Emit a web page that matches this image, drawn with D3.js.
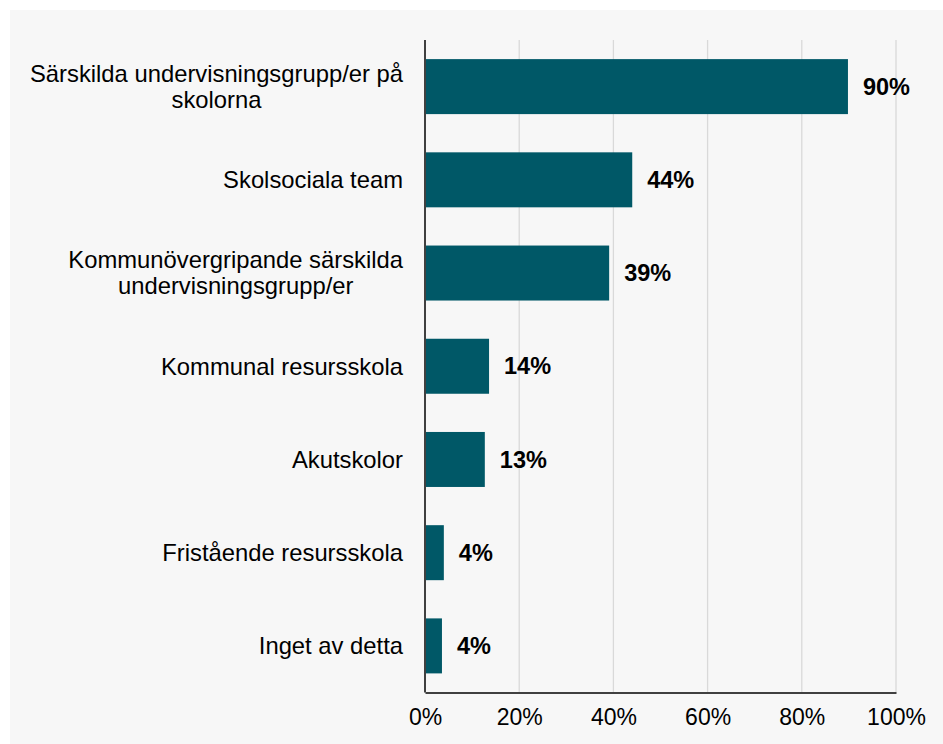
<!DOCTYPE html>
<meta charset="utf-8">
<script src="https://d3js.org/d3.v7.min.js"></script>
<style>
  body { margin: 0; background: #fff; }
  text { font-family: Arial, "Liberation Sans", sans-serif; }
</style>
<svg width="943" height="744"></svg>

<script>

// data
const categories = [
  ["Särskilda undervisningsgrupp/er på", "skolorna"],
  ["Skolsociala team"],
  ["Kommunövergripande särskilda", "undervisningsgrupp/er"],
  ["Kommunal resursskola"],
  ["Akutskolor"],
  ["Fristående resursskola"],
  ["Inget av detta"]
];
// bar lengths, labels as printed
const values = [89.8, 44, 39.1, 13.6, 12.7, 4, 3.6];
const valueLabels = ["90%", "44%", "39%", "14%", "13%", "4%", "4%"];
const ticks = [0, 20, 40, 60, 80, 100];

var svg = d3.select("svg");

// grey panel
svg.append("rect")
  .attr("x", 10).attr("y", 10)
  .attr("width", 933).attr("height", 734)
  .attr("fill", "#f7f7f7");

var margin = {top: 40, left: 425},
    width = 471,
    height = 652.5;

var g = svg.append("g")
  .attr("transform", "translate(" + margin.left + "," + margin.top + ")");

var x = d3.scaleLinear()
  .domain([0, 100])
  .range([0, width]);

var y = d3.scaleBand()
  .domain(d3.range(categories.length))
  .range([0, height])
  .paddingInner(0.41)
  .paddingOuter(0.205);

// gridlines
g.selectAll(".grid")
  .data(ticks.slice(1))
  .enter()
  .append("line")
    .attr("x1", d => x(d)).attr("x2", d => x(d))
    .attr("y1", 0).attr("y2", height)
    .attr("stroke", "#d9d9d9")
    .attr("stroke-width", 1.3);

// bars
g.selectAll(".bar")
  .data(values)
  .enter()
  .append("rect")
    .attr("x", 0)
    .attr("y", (d, i) => y(i))
    .attr("width", d => x(d))
    .attr("height", y.bandwidth())
    .attr("fill", "#005867");

// value labels
g.selectAll(".val")
  .data(values)
  .enter()
  .append("text")
    .attr("x", d => x(d) + 15)
    .attr("y", (d, i) => y(i) + y.bandwidth() / 2)
    .attr("dy", "0.35em")
    .attr("font-size", 23.5)
    .attr("font-weight", "bold")
    .attr("fill", "#000")
    .text((d, i) => valueLabels[i]);

// category labels (multi-line ones centred on the widest line)
var lineH = 26, fs = 23.8, right = -22;
g.selectAll(".cat")
  .data(categories)
  .enter()
  .append("text")
    .attr("font-size", fs)
    .attr("fill", "#000")
    .attr("y", (d, i) => y(i) + y.bandwidth() / 2)
    .each(function(d) {
      var t = d3.select(this);
      var spans = d.map(function(line, k) {
        return t.append("tspan")
          .attr("dy", k === 0 ? (0.35 * fs - (d.length - 1) * lineH / 2) + "px" : lineH + "px")
          .text(line);
      });
      var maxW = d3.max(spans, s => s.node().getComputedTextLength());
      spans.forEach(function(s) {
        s.attr("x", right - maxW / 2).attr("text-anchor", "middle");
      });
    });

// x axis
var xAxis = g.append("g")
  .attr("transform", "translate(0," + height + ")")
  .call(d3.axisBottom(x).tickValues(ticks).tickSize(0).tickPadding(16).tickFormat(d => d + "%"));
xAxis.select(".domain").attr("stroke", "#404040").attr("stroke-width", 2);
xAxis.selectAll("text").attr("font-size", 23).attr("fill", "#000").style("font-family", "Arial, 'Liberation Sans', sans-serif");

// y axis line
g.append("line")
  .attr("x1", 0).attr("x2", 0)
  .attr("y1", 0).attr("y2", height)
  .attr("stroke", "#404040")
  .attr("stroke-width", 2);

</script>
